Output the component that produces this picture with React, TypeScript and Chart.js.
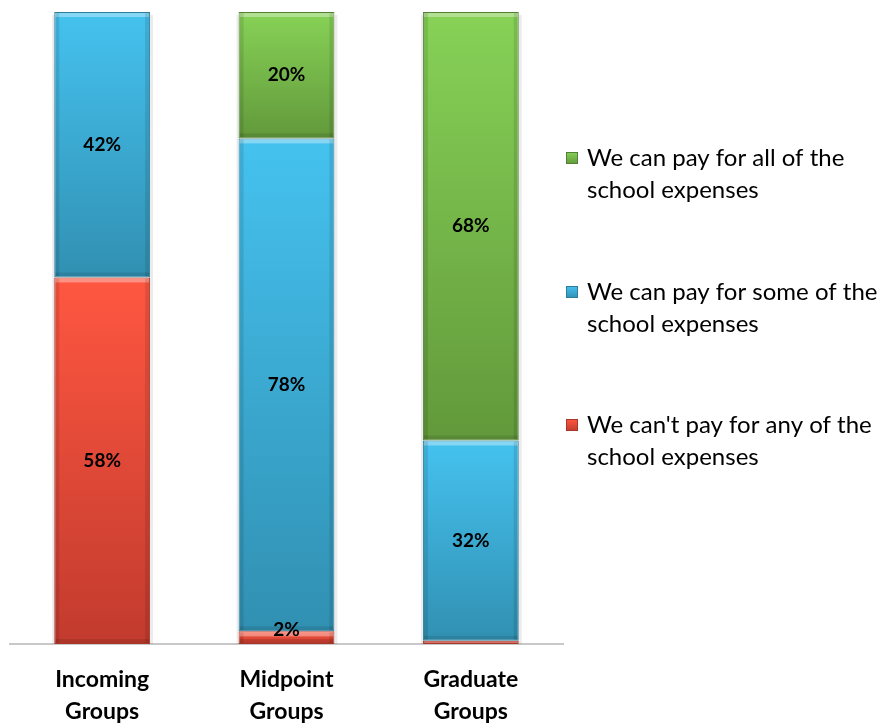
import React, { useEffect, useRef } from "react";
import { Chart, registerables } from "chart.js";

Chart.register(...registerables);

const categories = [["Incoming", "Groups"], ["Midpoint", "Groups"], ["Graduate", "Groups"]];
const cantPay = [58, 2, 0.5];
const somePay = [42, 78, 31.7];
const allPay = [0, 20, 67.8];
const seriesNames = [
  "We can't pay for any of the school expenses",
  "We can pay for some of the school expenses",
  "We can pay for all of the school expenses",
];
const legendLines = [
  ["We can pay for all of the", "school expenses"],
  ["We can pay for some of the", "school expenses"],
  ["We can't pay for any of the", "school expenses"],
];
const topColors = ["#ff5741", "#45c2ef", "#87d257"];
const bottomColors = ["#c23b2e", "#3190b2", "#62993b"];
const edgeColors = ["#a8362a", "#2c7c9a", "#557f36"];

export default function App() {
  const ref = useRef<HTMLCanvasElement | null>(null);

  useEffect(() => {
    document.body.style.margin = "0";
    const canvas = ref.current;
    if (!canvas) return;
    const allSeries = [cantPay, somePay, allPay];

    const gradientFor = (ctx: any, di: number) => {
      const chart = ctx.chart;
      const idx = ctx.dataIndex;
      const y = chart.scales?.y;
      if (!y || idx === undefined) return topColors[di];
      let start = 0;
      for (let k = 0; k < di; k++) start += allSeries[k][idx];
      const end = start + allSeries[di][idx];
      const top = y.getPixelForValue(end);
      const bot = y.getPixelForValue(start);
      if (!isFinite(top) || !isFinite(bot) || bot - top < 0.5) return topColors[di];
      const g = chart.ctx.createLinearGradient(0, top, 0, bot);
      g.addColorStop(0, topColors[di]);
      g.addColorStop(1, bottomColors[di]);
      return g;
    };

    const bevelPlugin = {
      id: "bevel",
      afterDatasetsDraw(chart: any) {
        const c = chart.ctx;
        chart.data.datasets.forEach((ds: any, di: number) => {
          const meta = chart.getDatasetMeta(di);
          meta.data.forEach((el: any, i: number) => {
            if (!ds.data[i]) return;
            const { x, y, base, width } = el.getProps(["x", "y", "base", "width"], true);
            const l = x - width / 2, r = x + width / 2;
            const h = base - y;
            if (h < 1) return;
            c.save();
            const e = Math.min(4, h / 3);
            c.fillStyle = "rgba(255,255,255,0.35)";
            c.fillRect(l + 1, y + 1, width - 2, e);
            c.fillStyle = "rgba(0,0,0,0.10)";
            c.fillRect(l + 1, base - e - 1, width - 2, e);
            c.fillRect(l + 1, y + 1, e, h - 2);
            c.fillRect(r - e - 1, y + 1, e, h - 2);
            c.restore();
          });
        });
        const m0 = chart.getDatasetMeta(0);
        m0.data.forEach((el: any) => {
          const { x, width } = el.getProps(["x", "width"], true);
          const r = x + width / 2;
          c.save();
          c.fillStyle = "rgba(0,0,0,0.08)";
          c.fillRect(r, chart.chartArea.top + 3, 3, chart.chartArea.bottom - chart.chartArea.top - 3);
          c.fillRect(x - width / 2 - 2, chart.chartArea.top + 3, 2, chart.chartArea.bottom - chart.chartArea.top - 3);
          c.restore();
        });
      },
    };

    const labelPlugin = {
      id: "valueLabels",
      afterDatasetsDraw(chart: any) {
        const c = chart.ctx;
        c.save();
        c.font = "bold 19px Lato, 'Open Sans', sans-serif";
        c.fillStyle = "#000";
        c.textAlign = "center";
        c.textBaseline = "middle";
        chart.data.datasets.forEach((ds: any, di: number) => {
          const meta = chart.getDatasetMeta(di);
          meta.data.forEach((el: any, i: number) => {
            const v = ds.data[i];
            if (!v || v < 1) return;
            const { x, y, base } = el.getProps(["x", "y", "base"], true);
            let cy = (y + base) / 2;
            if (base - y < 16) cy = y - 1;
            c.fillText(Math.round(v) + "%", x, cy);
          });
        });
        c.restore();
      },
    };

    const legendPlugin = {
      id: "sideLegend",
      afterDraw(chart: any) {
        const c = chart.ctx;
        c.save();
        c.font = "24px Lato, 'Open Sans', sans-serif";
        c.textBaseline = "middle";
        c.textAlign = "left";
        const tops = [158, 292, 425];
        const colorIdx = [2, 1, 0];
        legendLines.forEach((lines, k) => {
          const cy = tops[k];
          const ci = colorIdx[k];
          const g = c.createLinearGradient(0, cy - 6, 0, cy + 6);
          g.addColorStop(0, topColors[ci]);
          g.addColorStop(1, bottomColors[ci]);
          c.fillStyle = g;
          c.fillRect(566, cy - 6, 12, 12);
          c.strokeStyle = edgeColors[ci];
          c.lineWidth = 1;
          c.strokeRect(566.5, cy - 5.5, 11, 11);
          c.fillStyle = "#000";
          lines.forEach((t, j) => c.fillText(t, 587, cy + j * 32));
        });
        c.restore();
      },
    };

    const chart = new Chart(canvas, {
      type: "bar",
      data: {
        labels: categories,
        datasets: [cantPay, somePay, allPay].map((d, di) => ({
          label: seriesNames[di],
          data: d,
          backgroundColor: (ctx: any) => gradientFor(ctx, di),
          borderColor: edgeColors[di],
          borderWidth: 1,
          borderSkipped: false,
          barPercentage: 0.52,
          categoryPercentage: 1,
        })),
      },
      options: {
        animation: false,
        responsive: false,
        maintainAspectRatio: false,
        layout: { padding: { left: 10, right: 325, top: 12, bottom: 0 } },
        plugins: {
          legend: { display: false },
          tooltip: { enabled: false },
        },
        scales: {
          x: {
            stacked: true,
            grid: { display: false },
            border: { display: true, color: "#c8c8c8", width: 2 },
            ticks: {
              color: "#000",
              padding: 12,
              font: { family: "Lato, 'Open Sans', sans-serif", size: 23, weight: "bold", lineHeight: 32 / 23 },
              maxRotation: 0,
            },
            afterFit: (s: any) => {
              s.height = 82;
            },
          },
          y: {
            stacked: true,
            display: false,
            min: 0,
            max: 100,
          },
        },
      },
      plugins: [bevelPlugin, labelPlugin, legendPlugin],
    } as any);

    return () => chart.destroy();
  }, []);

  return (
    <div style={{ position: "relative", width: 888, height: 726, background: "#fff" }}>
      <canvas ref={ref} width={888} height={726} style={{ display: "block", width: 888, height: 726 }} />
    </div>
  );
}
